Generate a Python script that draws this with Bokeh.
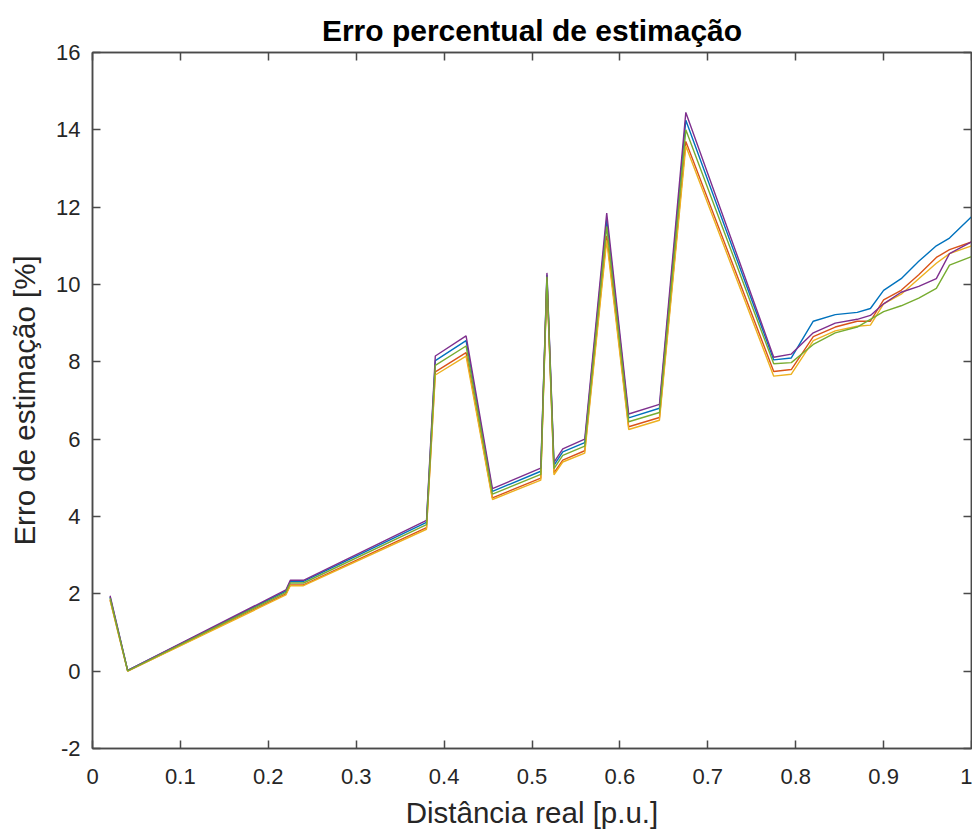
from bokeh.plotting import figure
from bokeh.models import Range1d, FixedTicker, LinearAxis, ColumnDataSource
from bokeh.embed import file_html
from bokeh.resources import INLINE

# ---- data ----
dist = [0.02, 0.04, 0.22, 0.225, 0.24, 0.38, 0.39, 0.425, 0.455, 0.51, 0.517, 0.525,
        0.535, 0.56, 0.585, 0.61, 0.645, 0.675, 0.775, 0.795, 0.82, 0.845, 0.87,
        0.885, 0.9, 0.92, 0.94, 0.96, 0.975, 1.0]

serie_azul = [1.92, 0.02, 2.07, 2.32, 2.32, 3.85, 8.03, 8.55, 4.65, 5.17, 10.25, 5.32,
              5.67, 5.91, 11.68, 6.55, 6.80, 14.25, 8.05, 8.10, 9.05, 9.22, 9.28,
              9.38, 9.85, 10.15, 10.60, 11.00, 11.20, 11.75]
serie_laranja = [1.85, 0.00, 2.00, 2.23, 2.23, 3.71, 7.74, 8.24, 4.48, 4.99, 10.15, 5.13,
                 5.46, 5.70, 11.26, 6.32, 6.56, 13.70, 7.75, 7.80, 8.65, 8.90, 9.05,
                 9.05, 9.60, 9.85, 10.25, 10.70, 10.90, 11.10]
serie_amarela = [1.83, 0.00, 1.97, 2.21, 2.21, 3.67, 7.66, 8.15, 4.44, 4.94, 10.10, 5.08,
                 5.41, 5.64, 11.14, 6.25, 6.49, 13.58, 7.63, 7.68, 8.55, 8.80, 8.92,
                 8.95, 9.50, 9.75, 10.15, 10.55, 10.80, 11.00]
serie_roxa = [1.95, 0.02, 2.10, 2.35, 2.35, 3.90, 8.15, 8.67, 4.72, 5.25, 10.30, 5.40,
              5.75, 6.00, 11.85, 6.65, 6.90, 14.45, 8.12, 8.20, 8.75, 9.00, 9.10,
              9.20, 9.50, 9.80, 9.95, 10.15, 10.80, 11.10]
serie_verde = [1.89, 0.01, 2.04, 2.28, 2.28, 3.79, 7.91, 8.41, 4.58, 5.09, 10.20, 5.24,
               5.58, 5.82, 11.50, 6.45, 6.69, 14.00, 7.95, 7.98, 8.45, 8.75, 8.90,
               9.10, 9.30, 9.45, 9.65, 9.90, 10.50, 10.72]

x_ticks = [0, 0.1, 0.2, 0.3, 0.4, 0.5, 0.6, 0.7, 0.8, 0.9, 1]
x_tick_labels = ["0", "0.1", "0.2", "0.3", "0.4", "0.5", "0.6", "0.7", "0.8", "0.9", "1"]
y_ticks = [-2, 0, 2, 4, 6, 8, 10, 12, 14, 16]
y_tick_labels = ["-2", "0", "2", "4", "6", "8", "10", "12", "14", "16"]

series = [serie_azul, serie_laranja, serie_amarela, serie_roxa, serie_verde]
colors = ["#0072BD", "#D95319", "#EDB120", "#7E2F8E", "#77AC30"]

FONT = "Liberation Sans"
AX = "#4a4a4a"
TXT = "#262626"

p = figure(width=972, height=833, output_backend="svg", toolbar_location=None,
           x_range=Range1d(0, 1), y_range=Range1d(-2, 16),
           min_border_left=92, min_border_right=1, min_border_top=52,
           min_border_bottom=85)
p.background_fill_color = "white"
p.border_fill_color = "white"
p.outline_line_color = AX
p.outline_line_width = 1.5
p.xgrid.visible = False
p.ygrid.visible = False

p.title.text = "Erro percentual de estimação"
p.title.text_font = FONT
p.title.text_font_size = "30px"
p.title.text_font_style = "bold"
p.title.text_color = "#000000"
p.title.align = "center"
p.title.standoff = 12

for ys, c in zip(series, colors):
    src = ColumnDataSource(dict(x=dist, y=ys))
    p.line("x", "y", source=src, line_color=c, line_width=1.4)

def style_axis(ax, ticks, labels=None, show_labels=True):
    ax.ticker = FixedTicker(ticks=ticks)
    ax.axis_line_color = AX
    ax.axis_line_width = 1.5
    ax.major_tick_line_color = AX
    ax.major_tick_line_width = 1.5
    ax.major_tick_in = 8
    ax.major_tick_out = 0
    ax.minor_tick_line_color = None
    if show_labels:
        ax.major_label_overrides = {t: l for t, l in zip(ticks, labels)}
        ax.major_label_text_font = FONT
        ax.major_label_text_font_size = "22px"
        ax.major_label_text_color = TXT
    else:
        ax.major_label_overrides = {t: "" for t in ticks}
        ax.major_label_text_font_size = "1px"
        ax.major_label_standoff = 0
        ax.axis_label = None

xa = p.xaxis[0]
style_axis(xa, x_ticks, x_tick_labels)
xa.major_label_standoff = 20
xa.axis_label = "Distância real [p.u.]"
xa.axis_label_text_font = FONT
xa.axis_label_text_font_size = "29.5px"
xa.axis_label_text_font_style = "normal"
xa.axis_label_text_color = TXT
xa.axis_label_standoff = 9

ya = p.yaxis[0]
style_axis(ya, y_ticks, y_tick_labels)
ya.major_label_standoff = 12
ya.axis_label = "Erro de estimação [%]"
ya.axis_label_text_font = FONT
ya.axis_label_text_font_size = "29.5px"
ya.axis_label_text_font_style = "normal"
ya.axis_label_text_color = TXT
ya.axis_label_standoff = 12

top = LinearAxis()
style_axis(top, x_ticks, show_labels=False)
p.add_layout(top, "above")
right = LinearAxis()
style_axis(right, y_ticks, show_labels=False)
p.add_layout(right, "right")

open("out.html", "w").write(file_html(p, INLINE))
